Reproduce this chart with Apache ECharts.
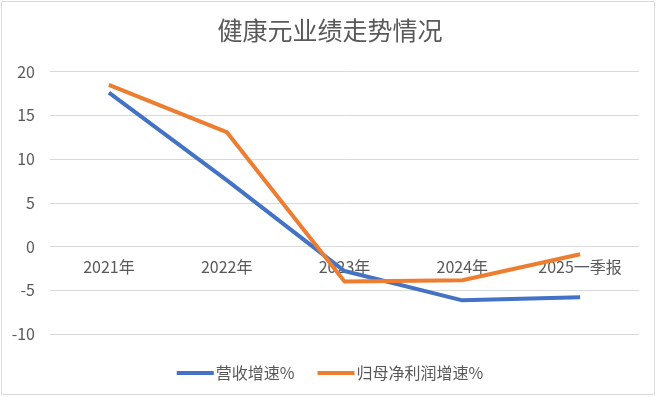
<!DOCTYPE html>
<html><head><meta charset="utf-8">
<script src="https://cdn.jsdelivr.net/npm/echarts@6/dist/echarts.min.js"></script>
<style>html,body{margin:0;padding:0;background:#fff}#c{width:660px;height:397px}</style>
</head><body><div id="c"></div>
<script>
const title = '健康元业绩走势情况';
const categories = ['2021年', '2022年', '2023年', '2024年', '2025一季报'];
const revenueGrowth = [17.6, 7.6, -2.8, -6.15, -5.8];
const profitGrowth = [18.5, 13.1, -4.0, -3.85, -0.88];
const seriesNames = ['营收增速%', '归母净利润增速%'];
const FONT = '"Noto Sans CJK SC", sans-serif';
const chart = echarts.init(document.getElementById('c'));
chart.setOption({
  animation: false,
  backgroundColor: '#fff',
  title: {text: title, left: 'center', top: 13, textStyle: {fontFamily: FONT, fontSize: 25, fontWeight: 'normal', color: '#595959'}},
  graphic: [{type: 'rect', shape: {x: 1.5, y: 1.5, width: 653, height: 393}, style: {fill: 'none', stroke: '#d9d9d9', lineWidth: 1}, silent: true}],
  legend: {bottom: 11, left: 'center', itemWidth: 37, itemHeight: 4, itemGap: 23, icon: 'rect',
    textStyle: {fontFamily: FONT, fontSize: 16, color: '#595959', padding: [0,0,0,-3]}, data: seriesNames},
  grid: {left: 50, right: 21, top: 71.7, bottom: 63},
  xAxis: {type: 'category', data: categories, boundaryGap: true,
    axisLine: {show: false, onZero: false}, axisTick: {show: false},
    axisLabel: {fontFamily: FONT, fontSize: 16, color: '#595959', margin: -75}},
  yAxis: {type: 'value', min: -10, max: 20, interval: 5,
    axisLine: {show: false}, axisTick: {show: false},
    axisLabel: {fontFamily: FONT, fontSize: 16, color: '#595959', margin: 15},
    splitLine: {lineStyle: {color: '#d9d9d9', width: 1}}},
  series: [
    {name: seriesNames[0], type: 'line', data: revenueGrowth, symbol: 'none', lineStyle: {width: 4, color: '#4472C4'}, itemStyle: {color: '#4472C4'}},
    {name: seriesNames[1], type: 'line', data: profitGrowth, symbol: 'none', lineStyle: {width: 4, color: '#ED7D31'}, itemStyle: {color: '#ED7D31'}}
  ]
});
</script></body></html>
